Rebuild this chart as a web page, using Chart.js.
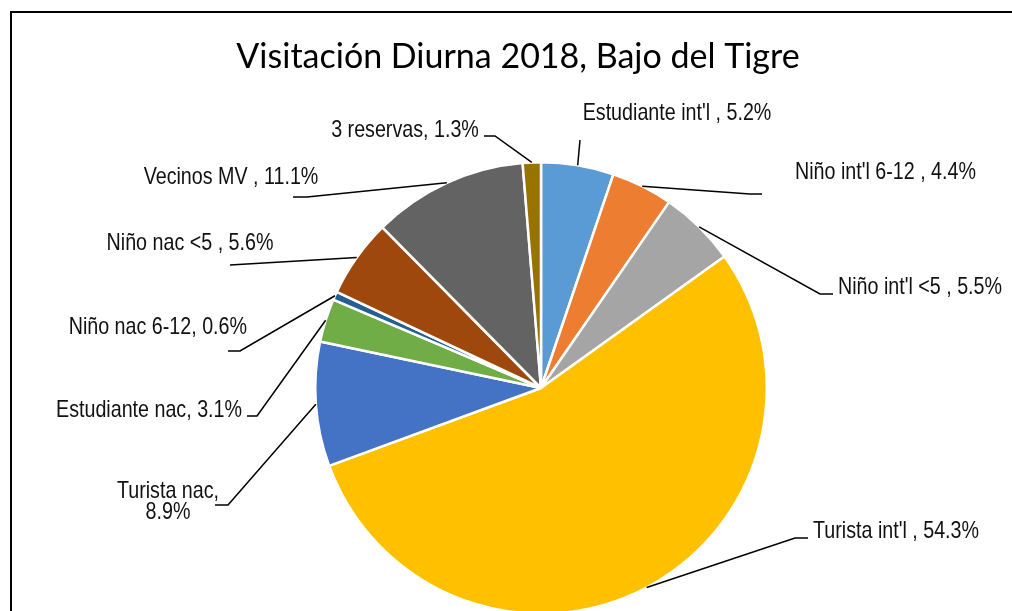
<!DOCTYPE html>
<html>
<head>
<meta charset="utf-8">
<script src="https://cdn.jsdelivr.net/npm/chart.js@4.4.1/dist/chart.umd.min.js"></script>
<style>
    html, body { margin: 0; padding: 0; background: #fff; overflow: hidden; }
    #wrap { position: absolute; left: 0; top: 0; width: 1012px; height: 640px; }
</style>
</head>
<body>
<div id="wrap"><canvas id="pie" width="1012" height="640"></canvas></div>
<script>
'use strict';

var chartTitle = 'Visitación Diurna 2018, Bajo del Tigre';

var categories = [
    "Estudiante int'l ",
    "Niño int'l 6-12 ",
    "Niño int'l <5 ",
    "Turista int'l ",
    'Turista nac',
    'Estudiante nac',
    'Niño nac 6-12',
    'Niño nac <5 ',
    'Vecinos MV ',
    '3 reservas',
];
var shares = [5.2, 4.4, 5.5, 54.3, 8.9, 3.1, 0.6, 5.6, 11.1, 1.3];

var colors = [
    '#5B9BD5', '#ED7D31', '#A5A5A5', '#FFC000', '#4472C4',
    '#70AD47', '#255E91', '#9E480E', '#636363', '#997300',
];

// where each data label sits and how its leader line bends (layout only)
var labelLayout = [
    {x: 677, y: 113, align: 'center', bends: [[580, 140]]},
    {x: 795, y: 172, align: 'left', bends: [[750, 194], [762, 194]]},
    {x: 838, y: 287, align: 'left', bends: [[820, 294], [833, 294]]},
    {x: 813, y: 531, align: 'left', bends: [[795, 538], [808, 538]]},
    {x: 168, y: 491, align: 'center', wrap: true, bends: [[228, 505], [215, 505]]},
    {x: 242, y: 410, align: 'right', bends: [[257, 416], [247, 416]]},
    {x: 247, y: 327, align: 'right', bends: [[240, 351], [228, 351]]},
    {x: 190, y: 243, align: 'center', bends: [[230, 265]]},
    {x: 231, y: 177, align: 'center', bends: [[307, 197], [293, 197]]},
    {x: 405, y: 130, align: 'center', bends: [[495, 136], [484, 136]]},
];

// no narrow face installed, so squeeze the regular one like Arial Narrow
var labelFont = '24px "Liberation Sans", Arial, sans-serif';
var narrow = 0.82;

function narrowText(ctx, text, x, y) {
    ctx.save();
    ctx.translate(x, y);
    ctx.scale(narrow, 1);
    ctx.fillText(text, 0, 0);
    ctx.restore();
}

var frameAndLabels = {
    id: 'frameAndLabels',
    afterDraw: function (chart) {
        var ctx = chart.ctx;
        ctx.save();

        // frame (left and top edges visible in the crop)
        ctx.strokeStyle = '#000';
        ctx.lineWidth = 2;
        ctx.beginPath();
        ctx.moveTo(11, chart.height);
        ctx.lineTo(11, 12);
        ctx.lineTo(chart.width, 12);
        ctx.stroke();

        // title
        ctx.fillStyle = '#000';
        ctx.font = '34px Lato, "Open Sans", sans-serif';
        ctx.textAlign = 'center';
        ctx.textBaseline = 'alphabetic';
        ctx.fillText(chartTitle, 518, 68);

        // leader lines + labels
        var arcs = chart.getDatasetMeta(0).data;
        ctx.font = labelFont;
        ctx.textBaseline = 'middle';
        arcs.forEach(function (arc, i) {
            var lay = labelLayout[i];
            var mid = (arc.startAngle + arc.endAngle) / 2;
            var sx = arc.x + Math.cos(mid) * arc.outerRadius;
            var sy = arc.y + Math.sin(mid) * arc.outerRadius;

            ctx.strokeStyle = '#000';
            ctx.lineWidth = 1.5;
            ctx.beginPath();
            ctx.moveTo(sx, sy);
            lay.bends.forEach(function (p) { ctx.lineTo(p[0], p[1]); });
            ctx.stroke();

            var pct = shares[i].toFixed(1) + '%';
            ctx.fillStyle = '#111';
            ctx.textAlign = lay.align;
            if (lay.wrap) {
                narrowText(ctx, categories[i] + ',', lay.x, lay.y);
                narrowText(ctx, pct, lay.x, lay.y + 21);
            } else {
                narrowText(ctx, categories[i] + ', ' + pct, lay.x, lay.y);
            }
        });
        ctx.restore();
    },
};

new Chart(document.getElementById('pie'), {
    type: 'pie',
    data: {
        labels: categories,
        datasets: [{
            data: shares,
            backgroundColor: colors,
            borderColor: '#fff',
            borderWidth: 2.5,
        }],
    },
    options: {
        responsive: false,
        animation: false,
        layout: {
            padding: {left: 314, right: 244, top: 161, bottom: 25},
        },
        plugins: {
            legend: {display: false},
            tooltip: {enabled: false},
            title: {display: false},
        },
    },
    plugins: [frameAndLabels],
});
</script>
</body>
</html>
